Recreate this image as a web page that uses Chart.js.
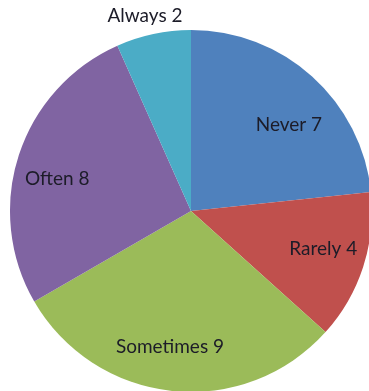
<!DOCTYPE html>
<html>
<head>
<meta charset="utf-8">
<script src="https://cdn.jsdelivr.net/npm/chart.js@4/dist/chart.umd.min.js"></script>
<style>
  html, body { margin: 0; padding: 0; background: #ffffff; overflow: hidden; width: 369px; height: 391px; }
  #wrap { position: absolute; left: 0; top: 0; width: 372px; height: 392px; }
</style>
</head>
<body>
<div id="wrap"><canvas id="c"></canvas></div>
<script>
const categories = ["Never", "Rarely", "Sometimes", "Often", "Always"];
const counts = [7, 4, 9, 8, 2];
const sliceColors = ["#4F81BD", "#C0504D", "#9BBB59", "#8064A2", "#4BACC6"];
// label placement relative to each slice: radius fraction and angular shift (degrees)
const labelRadius = [0.72, 0.76, 0.76, 0.76, 1.105];
const labelAngleShift = [6.7, -2, 2.8, -4.6, -1.3];

const sliceLabels = {
  id: 'sliceLabels',
  afterDatasetsDraw(chart) {
    const ctx = chart.ctx;
    const meta = chart.getDatasetMeta(0);
    ctx.save();
    ctx.font = '19px Lato, "Open Sans", sans-serif';
    ctx.fillStyle = '#1c1c28';
    ctx.textAlign = 'center';
    ctx.textBaseline = 'middle';
    meta.data.forEach((arc, i) => {
      const mid = (arc.startAngle + arc.endAngle) / 2 + labelAngleShift[i] * Math.PI / 180;
      const r = arc.outerRadius * labelRadius[i];
      const x = arc.x + Math.cos(mid) * r;
      const y = arc.y + Math.sin(mid) * r;
      ctx.fillText(categories[i] + ' ' + counts[i], x, y);
    });
    ctx.restore();
  }
};

new Chart(document.getElementById('c'), {
  type: 'pie',
  data: {
    labels: categories,
    datasets: [{
      data: counts,
      backgroundColor: sliceColors,
      borderWidth: 0
    }]
  },
  options: {
    responsive: true,
    maintainAspectRatio: false,
    animation: false,
    layout: { padding: { left: 10, top: 30, right: 0, bottom: 0 } },
    plugins: {
      legend: { display: false },
      tooltip: { enabled: false }
    }
  },
  plugins: [sliceLabels]
});
</script>
</body>
</html>
